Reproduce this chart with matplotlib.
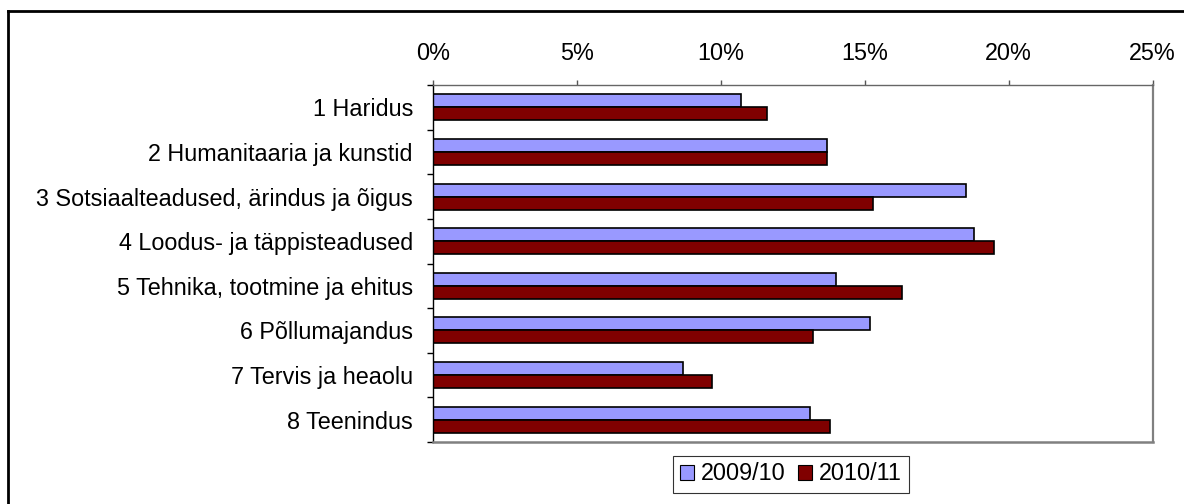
import matplotlib
matplotlib.use("Agg")
import matplotlib.pyplot as plt
from matplotlib.lines import Line2D
from matplotlib.patches import Patch
import numpy as np

plt.rcParams['font.family'] = ['Liberation Sans', 'DejaVu Sans']

categories = [
    "1 Haridus",
    "2 Humanitaaria ja kunstid",
    "3 Sotsiaalteadused, ärindus ja õigus",
    "4 Loodus- ja täppisteadused",
    "5 Tehnika, tootmine ja ehitus",
    "6 Põllumajandus",
    "7 Tervis ja heaolu",
    "8 Teenindus",
]
series_names = ["2009/10", "2010/11"]
values_2009 = [10.7, 13.7, 18.5, 18.8, 14.0, 15.2, 8.7, 13.1]
values_2010 = [11.6, 13.7, 15.3, 19.5, 16.3, 13.2, 9.7, 13.8]
xticks_pct = [0, 5, 10, 15, 20, 25]

FS = 16.8
W, H = 1184, 504
fig = plt.figure(figsize=(W / 100, H / 100), dpi=100)
ax = fig.add_axes([432.7 / W, 1 - 442 / H, (1152.7 - 432.7) / W, (442 - 85) / H])

n = len(categories)
y = np.arange(n)
bh = 0.29
ax.barh(y - bh / 2, values_2009, height=bh, color="#9999FF", edgecolor="black",
        linewidth=1.2, label=series_names[0])
ax.barh(y + bh / 2, values_2010, height=bh, color="#800000", edgecolor="black",
        linewidth=1.2, label=series_names[1])

ax.set_xlim(0, 25)
ax.set_ylim(n - 0.5, -0.5)

ax.xaxis.tick_top()
ax.set_xticks(xticks_pct)
ax.set_xticklabels([f"{v}%" for v in xticks_pct], fontsize=FS)
ax.tick_params(axis="x", direction="out", length=3.6, width=1, color="#555555", pad=11)

ax.set_yticks(np.arange(-0.5, n, 1.0))
ax.set_yticklabels([])
ax.tick_params(axis="y", which="major", direction="out", length=4.3, width=1, color="black")
ax.set_yticks(y, minor=True)
ax.set_yticklabels(categories, minor=True, fontsize=FS)
ax.tick_params(axis="y", which="minor", length=0, pad=14.2)

ax.spines["left"].set_color("black")
ax.spines["left"].set_linewidth(1.0)
ax.spines["top"].set_color("#666666")
ax.spines["top"].set_linewidth(1.0)
ax.spines["right"].set_color("#808080")
ax.spines["right"].set_linewidth(1.6)
ax.spines["bottom"].set_color("#808080")
ax.spines["bottom"].set_linewidth(1.8)

handles = [Patch(facecolor="#9999FF", edgecolor="black", linewidth=0.8),
           Patch(facecolor="#800000", edgecolor="black", linewidth=0.8)]
leg = fig.legend(handles, series_names, loc="center", bbox_to_anchor=(791 / W, 1 - 474 / H),
                 ncol=2, fontsize=FS, frameon=True, fancybox=False,
                 handlelength=0.6, handleheight=0.6, handletextpad=0.3,
                 columnspacing=0.5, borderpad=0.3, borderaxespad=0)
leg.get_frame().set_edgecolor("black")
leg.get_frame().set_linewidth(0.8)

# outer frame
fig.add_artist(Line2D([8 / W, 1.0], [1 - 11 / H, 1 - 11 / H], color="black", linewidth=2.0,
                      transform=fig.transFigure))
fig.add_artist(Line2D([8 / W, 8 / W], [1 - 11 / H, 0.0], color="black", linewidth=2.0,
                      transform=fig.transFigure))

fig.savefig("out.png", dpi=100)
